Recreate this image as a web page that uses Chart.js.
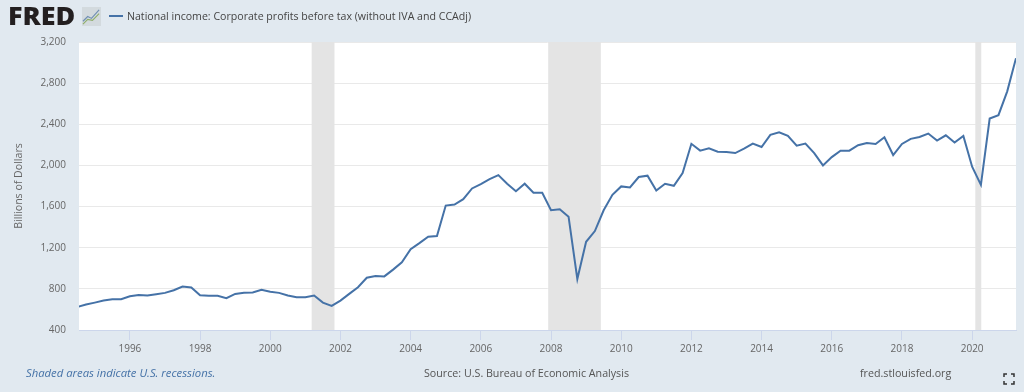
<!DOCTYPE html>
<html>
<head>
<meta charset="utf-8">
<title>National income: Corporate profits before tax</title>
<script src="https://cdn.jsdelivr.net/npm/chart.js@4"></script>
<style>
    html, body { margin: 0; padding: 0; background: #e1e9f0; }
    #wrap { position: relative; width: 1024px; height: 392px; overflow: hidden; font-family: "Open Sans", sans-serif; }
    #wrap canvas { position: absolute; left: 0; top: 0; }
    .txt { position: absolute; white-space: nowrap; }
    #logo { left: 8px; top: 0px; font: 800 24px/32px "Open Sans", sans-serif; color: #231f20; transform: scaleX(1.12); transform-origin: left center; }
    #legendLine { position: absolute; left: 109px; top: 15px; width: 14px; height: 2px; background: #4572a7; }
    #legendText { left: 127px; top: 7px; font-size: 10.6px; line-height: 18px; color: #444; }
    .foot { top: 365px; font-size: 10.7px; line-height: 16px; color: #555; }
</style>
</head>
<body>
<div id="wrap">
    <canvas id="myChart" width="1024" height="392"></canvas>
    <div class="txt" id="logo">FRED</div>
    <svg style="position:absolute;left:82px;top:7px" width="19" height="19" viewBox="0 0 20 20">
        <rect x="0" y="0" width="20" height="20" fill="#d3dade"/>
        <polyline points="1,15 6,10 10,12 18,3" fill="none" stroke="#6f8fb3" stroke-width="1.2"/>
        <polyline points="1,18 6,13 11,14 18,7" fill="none" stroke="#8fae6b" stroke-width="1.2"/>
    </svg>
    <div id="legendLine"></div>
    <div class="txt" id="legendText">National income: Corporate profits before tax (without IVA and CCAdj)</div>
    <div class="txt foot" style="left:26px;color:#4572a7;font-style:italic;font-size:11.3px">Shaded areas indicate U.S. recessions.</div>
    <div class="txt foot" style="left:424px">Source: U.S. Bureau of Economic Analysis</div>
    <div class="txt foot" style="left:860px">fred.stlouisfed.org</div>
    <svg style="position:absolute;left:1003px;top:373px" width="12" height="12" viewBox="0 0 12 12" fill="none" stroke="#333" stroke-width="1.5">
        <path d="M1 4V1H4M8 1H11V4M11 8V11H8M4 11H1V8"/>
    </svg>
</div>
<script>
const quarters = [
    1994.5, 1994.75,
    1995, 1995.25, 1995.5, 1995.75,
    1996, 1996.25, 1996.5, 1996.75,
    1997, 1997.25, 1997.5, 1997.75,
    1998, 1998.25, 1998.5, 1998.75,
    1999, 1999.25, 1999.5, 1999.75,
    2000, 2000.25, 2000.5, 2000.75,
    2001, 2001.25, 2001.5, 2001.75,
    2002, 2002.25, 2002.5, 2002.75,
    2003, 2003.25, 2003.5, 2003.75,
    2004, 2004.25, 2004.5, 2004.75,
    2005, 2005.25, 2005.5, 2005.75,
    2006, 2006.25, 2006.5, 2006.75,
    2007, 2007.25, 2007.5, 2007.75,
    2008, 2008.25, 2008.5, 2008.75,
    2009, 2009.25, 2009.5, 2009.75,
    2010, 2010.25, 2010.5, 2010.75,
    2011, 2011.25, 2011.5, 2011.75,
    2012, 2012.25, 2012.5, 2012.75,
    2013, 2013.25, 2013.5, 2013.75,
    2014, 2014.25, 2014.5, 2014.75,
    2015, 2015.25, 2015.5, 2015.75,
    2016, 2016.25, 2016.5, 2016.75,
    2017, 2017.25, 2017.5, 2017.75,
    2018, 2018.25, 2018.5, 2018.75,
    2019, 2019.25, 2019.5, 2019.75,
    2020, 2020.25, 2020.5, 2020.75,
    2021, 2021.25,
];

const profits = [
    624, 647,
    666, 686, 699, 699,
    728, 741, 735, 748,
    761, 787, 823, 813,
    738, 732, 732, 709,
    751, 761, 764, 790,
    771, 761, 735, 718,
    718, 735, 666, 634,
    686, 751, 816, 908,
    924, 921, 987, 1059,
    1186, 1245, 1307, 1313,
    1610, 1620, 1672, 1776,
    1818, 1867, 1906, 1822,
    1750, 1822, 1734, 1734,
    1564, 1574, 1502, 896,
    1258, 1362, 1564, 1714,
    1796, 1786, 1887, 1900,
    1756, 1822, 1802, 1926,
    2210, 2144, 2166, 2134,
    2130, 2120, 2163, 2212,
    2179, 2297, 2323, 2287,
    2192, 2212, 2120, 2000,
    2081, 2143, 2143, 2196,
    2218, 2209, 2274, 2101,
    2209, 2258, 2277, 2310,
    2241, 2293, 2222, 2287,
    1987, 1811, 2456, 2489,
    2720, 3043,
];

const yearTicks = [1996, 1998, 2000, 2002, 2004, 2006, 2008, 2010, 2012, 2014, 2016, 2018, 2020];
const valueTicks = [400, 800, 1200, 1600, 2000, 2400, 2800, 3200];
const recessions = [
    [2001.18, 2001.83],
    [2007.92, 2009.42],
    [2020.09, 2020.26],
];

// white plot area and grey recession bands, under the line
const backdrop = {
    id: "backdrop",
    beforeDraw(chart) {
        const { ctx, chartArea: a } = chart;
        ctx.save();
        ctx.fillStyle = "#ffffff";
        ctx.fillRect(a.left, a.top, a.width, a.height);
        ctx.restore();
    },
    beforeDatasetsDraw(chart) {
        const { ctx, chartArea: a, scales } = chart;
        ctx.save();
        ctx.fillStyle = "#e4e4e4";
        recessions.forEach(([from, to]) => {
            const x0 = scales.x.getPixelForValue(from);
            const x1 = scales.x.getPixelForValue(to);
            ctx.fillRect(x0, a.top, x1 - x0, a.height);
        });
        ctx.restore();
    },
};

const config = {
    type: "line",
    data: {
        datasets: [
            {
                label: "National income: Corporate profits before tax (without IVA and CCAdj)",
                data: quarters.map((q, i) => ({ x: q, y: profits[i] })),
                borderColor: "#4572a7",
                borderWidth: 2,
                pointRadius: 0,
                tension: 0,
                fill: false,
            },
        ],
    },
    options: {
        responsive: false,
        animation: false,
        layout: { padding: { top: 42, right: 8, left: 0, bottom: 0 } },
        plugins: {
            legend: { display: false },
            tooltip: { enabled: false },
        },
        scales: {
            x: {
                type: "linear",
                min: 1994.55,
                max: 2021.25,
                afterBuildTicks(axis) {
                    axis.ticks = yearTicks.map((v) => ({ value: v }));
                },
                afterFit(axis) {
                    axis.height = 62;
                },
                grid: { drawOnChartArea: false, tickLength: 10, tickColor: "#ccd6eb" },
                border: { color: "#ccd6eb" },
                ticks: {
                    autoSkip: false,
                    maxRotation: 0,
                    padding: 3,
                    color: "#666666",
                    font: { family: "Open Sans", size: 10 },
                    callback: (v) => String(v),
                },
            },
            y: {
                min: 400,
                max: 3200,
                afterBuildTicks(axis) {
                    axis.ticks = valueTicks.map((v) => ({ value: v }));
                },
                afterFit(axis) {
                    axis.width = 79;
                },
                title: {
                    display: true,
                    text: "Billions of Dollars",
                    color: "#666666",
                    font: { family: "Open Sans", size: 10.6 },
                    padding: { top: 13, bottom: 0 },
                },
                grid: { color: "#e9e9e9", drawTicks: false },
                border: { display: false },
                ticks: {
                    padding: 13,
                    color: "#666666",
                    font: { family: "Open Sans", size: 10 },
                    callback: (v) => v.toLocaleString("en-US"),
                },
            },
        },
    },
    plugins: [backdrop],
};

var myChart = new Chart(document.getElementById("myChart"), config);
</script>
</body>
</html>
